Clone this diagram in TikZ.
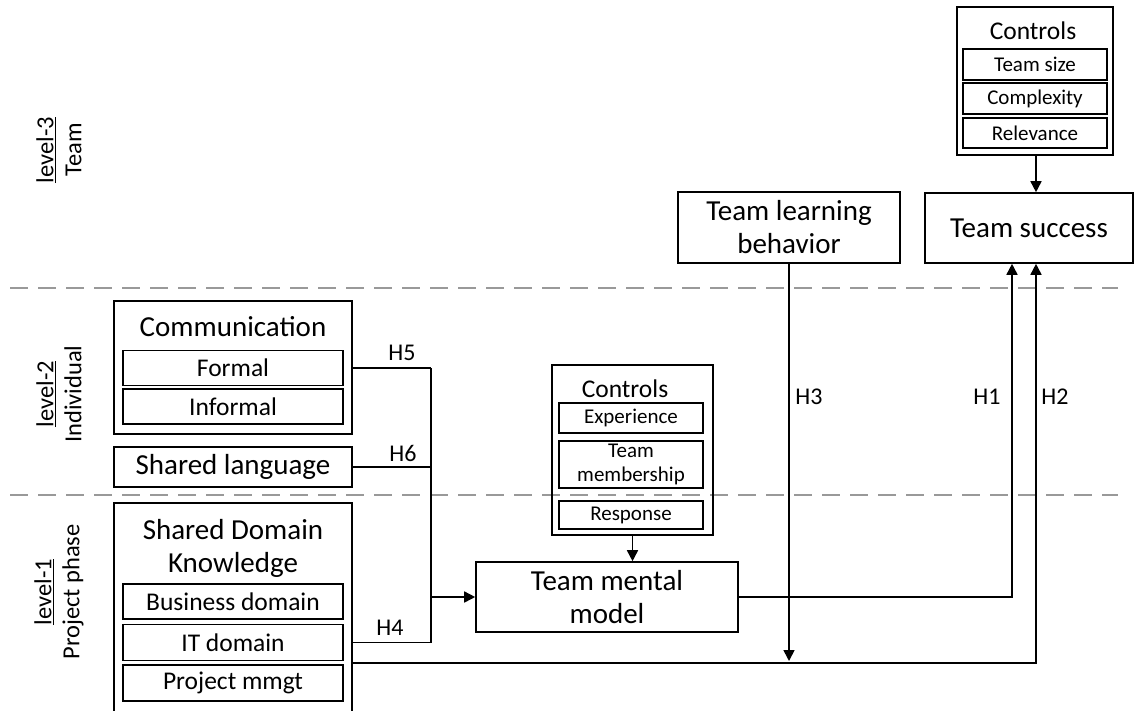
\documentclass[tikz,border=0pt]{standalone}
\usepackage{fontspec}
\setmainfont{Carlito}
\usetikzlibrary{arrows.meta,calc}

\tikzset{
  box/.style={draw, line width=1.6pt, inner sep=0pt, align=center},
  bigtxt/.style={font=\fontsize{29}{33}\selectfont},
  subtxt/.style={font=\fontsize{25.5}{29}\selectfont},
  ctltxt/.style={font=\fontsize{21}{24}\selectfont},
  ctltitle/.style={font=\fontsize{25.5}{29}\selectfont},
  hyp/.style={font=\fontsize{24}{28}\selectfont, inner sep=0pt},
  lvl/.style={font=\fontsize{24.5}{28}\selectfont, align=center, rotate=90, inner sep=0pt},
  link/.style={line width=1.6pt},
  arr/.style={line width=1.6pt, -{Triangle[length=11pt,width=11pt]}},
  divider/.style={line width=2pt, draw=gray!80, dash pattern=on 18pt off 10pt},
}

\begin{document}
\begin{tikzpicture}[x=1pt,y=-1pt]
  \clip (0,0) rectangle (1135,710);

  % level dividers
  \draw[divider] (10,288) -- (1118,288);
  \draw[divider] (10,495) -- (1118,495);

  % level labels
  \node[lvl] (lv3) at (59,150) {\underline{level-3}\\Team};
  \node[lvl] (lv2) at (59,394) {\underline{level-2}\\Individual};
  \node[lvl] (lv1) at (59,592) {\underline{level-1}\\Project phase};

  % team level
  \node[box, minimum width=156pt, minimum height=148pt] (ctlTop) at (1035,81) {};
  \node[ctltitle] (ctlTopT) at (1033,31) {Controls};
  \node[box, ctltxt, minimum width=144pt, minimum height=31pt] (tsize) at (1035,64.5) {Team size};
  \node[box, ctltxt, minimum width=144pt, minimum height=31pt] (cplx) at (1035,98.5) {Complexity};
  \node[box, ctltxt, minimum width=144pt, minimum height=30pt] (relv) at (1035,133) {Relevance};

  \node[box, bigtxt, minimum width=208pt, minimum height=70pt] (succ) at (1029,228) {Team success};
  \node[box, bigtxt, minimum width=222pt, minimum height=71pt] (tlb) at (789,227.5) {Team learning\\behavior};

  % individual level
  \node[box, minimum width=238pt, minimum height=133pt] (comm) at (233,367.5) {};
  \node[bigtxt] (commT) at (233,327) {Communication};
  \node[box, subtxt, minimum width=220pt, minimum height=35pt] (formal) at (233,368) {Formal};
  \node[box, subtxt, minimum width=220pt, minimum height=35pt] (informal) at (233,406.5) {Informal};

  \node[box, bigtxt, minimum width=238pt, minimum height=40pt] (lang) at (233,467) {Shared language};

  \node[box, minimum width=161pt, minimum height=170pt] (ctlMid) at (632.5,450) {};
  \node[ctltitle] (ctlMidT) at (625,389) {Controls};
  \node[box, ctltxt, minimum width=144pt, minimum height=30pt] (exper) at (631,418) {Experience};
  \node[box, ctltxt, minimum width=144pt, minimum height=47pt] (member) at (631,464.5) {Team\\membership};
  \node[box, ctltxt, minimum width=144pt, minimum height=28pt] (resp) at (631,515) {Response};

  % project phase level
  \node[box, minimum width=238pt, minimum height=212pt] (sdk) at (233,609) {};
  \node[bigtxt, align=center] (sdkT) at (233,548.5) {Shared Domain\\Knowledge};
  \node[box, subtxt, minimum width=220pt, minimum height=35pt] (bus) at (233,601.5) {Business domain};
  \node[box, subtxt, minimum width=220pt, minimum height=36pt] (itd) at (233,642.5) {IT domain};
  \node[box, subtxt, minimum width=220pt, minimum height=36pt] (pmg) at (233,683) {Project mmgt};

  \node[box, bigtxt, minimum width=262pt, minimum height=70pt] (tmm) at (607,597) {Team mental\\model};

  % helper coordinates
  \coordinate (jx) at (431,0);
  \coordinate (h2y) at (0,663);
  \coordinate (h3end) at (0,661);

  % controls into their constructs
  \draw[arr] (ctlTop.south -| 1036,0) -- (succ.north -| 1036,0);
  \draw[arr] (ctlMid.south) -- (ctlMid.south |- tmm.north);

  % H4, H5, H6 into team mental model
  \draw[link] (comm.east |- formal.east) -- (jx |- formal.east);
  \draw[link] (lang.east) -- (jx |- lang.east);
  \draw[link] (sdk.east |- itd.east) -- (jx |- itd.east);
  \draw[link] (jx |- formal.east) -- (jx |- itd.east);
  \draw[arr] (jx |- tmm.west) -- (tmm.west);

  % H1: team mental model to team success
  \draw[arr] (tmm.east) -| ([xshift=-17pt]succ.south);
  % H2: shared domain knowledge to team success
  \draw[arr] (sdk.east |- h2y) -| ([xshift=7pt]succ.south);
  % H3: team learning behavior moderating H2
  \draw[arr] (tlb.south) -- (tlb.south |- h3end);

  % hypothesis labels
  \node[hyp] (h5) at (402,353) {H5};
  \node[hyp] (h6) at (403,453) {H6};
  \node[hyp] (h4) at (390,628) {H4};
  \node[hyp] (h3) at (809,397) {H3};
  \node[hyp] (h1) at (987,397) {H1};
  \node[hyp] (h2) at (1055,397) {H2};
\end{tikzpicture}
\end{document}
